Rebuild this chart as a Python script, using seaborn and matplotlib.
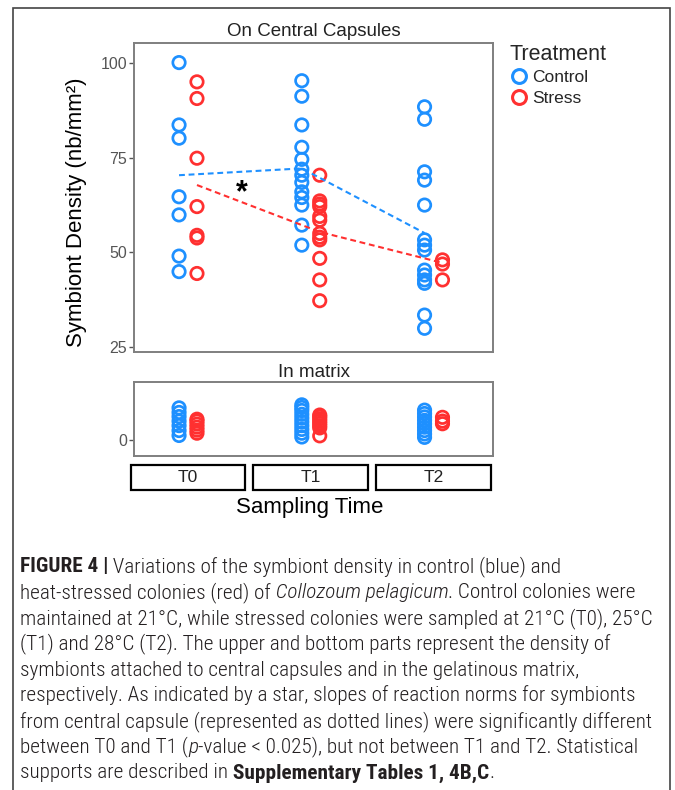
import numpy as np
import pandas as pd
import matplotlib
matplotlib.use("Agg")
import matplotlib.pyplot as plt
import seaborn as sns
from matplotlib.lines import Line2D
from matplotlib.patches import Rectangle
from matplotlib import font_manager

# ---------------- data ----------------
times = ["T0", "T1", "T2"]
treatments = ["Control", "Stress"]

# symbionts on central capsules (nb/mm2)
cap_T0_control = [100.2, 83.7, 80.2, 64.7, 59.9, 49.0, 44.9]
cap_T0_stress = [95.1, 90.7, 74.9, 62.1, 54.5, 53.8, 44.4]
cap_T1_control = [95.4, 91.3, 83.7, 77.8, 74.6, 72.0, 70.4, 68.5, 66.0, 64.5, 62.5, 57.2, 51.9]
cap_T1_stress = [70.4, 63.6, 62.8, 62.1, 59.5, 58.5, 55.0, 54.0, 53.3, 48.4, 42.7, 37.2]
cap_T2_control = [88.5, 85.2, 71.3, 69.1, 62.5, 53.3, 51.9, 50.6, 45.3, 44.0, 42.7, 41.8, 33.4, 29.9]
cap_T2_stress = [48.0, 46.9, 42.7]

# symbionts in gelatinous matrix
mat_T0_control = [1.2, 2.5, 3.8, 5.0, 6.2, 7.3, 8.5]
mat_T0_stress = [1.8, 2.6, 3.4, 4.2, 5.0, 5.5]
mat_T1_control = [0.8, 1.8, 2.8, 3.8, 4.8, 5.8, 6.8, 7.8, 8.6, 9.3]
mat_T1_stress = [1.1, 3.2, 3.8, 4.4, 5.0, 5.6, 6.2, 6.6]
mat_T2_control = [0.7, 1.6, 2.5, 3.4, 4.3, 5.2, 6.1, 7.0, 7.9]
mat_T2_stress = [4.3, 5.0, 6.0]

# reaction norms (dotted lines)
norm_control = [70.4, 72.2, 55.1]
norm_stress = [67.8, 55.4, 47.2]

y_ticks_capsules = [25, 50, 75, 100]
y_ticks_matrix = [0]

caption_lines = [
    [("FIGURE 4 |", "bold", "normal"),
     (" Variations of the symbiont density in control (blue) and", "light", "normal")],
    [("heat-stressed colonies (red) of", "light", "normal"),
     (" Collozoum pelagicum", "light", "italic"),
     (". Control colonies were", "light", "normal")],
    [("maintained at 21°C, while stressed colonies were sampled at 21°C (T0), 25°C", "light", "normal")],
    [("(T1) and 28°C (T2). The upper and bottom parts represent the density of", "light", "normal")],
    [("symbionts attached to central capsules and in the gelatinous matrix,", "light", "normal")],
    [("respectively. As indicated by a star, slopes of reaction norms for symbionts", "light", "normal")],
    [("from central capsule (represented as dotted lines) were significantly different", "light", "normal")],
    [("between T0 and T1 (", "light", "normal"), ("p", "light", "italic"),
     ("-value < 0.025), but not between T1 and T2. Statistical", "light", "normal")],
    [("supports are described in", "light", "normal"),
     (" Supplementary Tables 1, 4B,C", "bold", "normal"), (".", "light", "normal")],
]

# ---------------- build tables ----------------
def long_table(d):
    rows = []
    for (t, tr), vals in d.items():
        for v in vals:
            rows.append({"time": t, "treatment": tr, "density": v})
    return pd.DataFrame(rows)

df_cap = long_table({
    ("T0", "Control"): cap_T0_control, ("T0", "Stress"): cap_T0_stress,
    ("T1", "Control"): cap_T1_control, ("T1", "Stress"): cap_T1_stress,
    ("T2", "Control"): cap_T2_control, ("T2", "Stress"): cap_T2_stress,
})
df_mat = long_table({
    ("T0", "Control"): mat_T0_control, ("T0", "Stress"): mat_T0_stress,
    ("T1", "Control"): mat_T1_control, ("T1", "Stress"): mat_T1_stress,
    ("T2", "Control"): mat_T2_control, ("T2", "Stress"): mat_T2_stress,
})
df_norm = pd.DataFrame({
    "time": times * 2,
    "treatment": ["Control"] * 3 + ["Stress"] * 3,
    "density": norm_control + norm_stress,
})

dodge = {"Control": -0.073, "Stress": 0.073}
for df in (df_cap, df_mat, df_norm):
    df["x"] = df["time"].map(times.index) + df["treatment"].map(dodge)

# ---------------- style ----------------
W, H, DPI = 675, 790, 100
sns.set_theme(style="white")
plt.rcParams["font.family"] = ["Liberation Sans", "DejaVu Sans"]

colors = {"Control": "#1E90FF", "Stress": "#FF3030"}
grey = "#7F7F7F"
tick_col = "#555555"

fig = plt.figure(figsize=(W / DPI, H / DPI), dpi=DPI)
fig.patch.set_facecolor("white")


def rect(x0, y0, x1, y1):
    return [x0 / W, 1 - y1 / H, (x1 - x0) / W, (y1 - y0) / H]


ax_top = fig.add_axes(rect(134, 43.3, 493.3, 352.3))
ax_bot = fig.add_axes(rect(134, 382.3, 493.3, 455.7))


def hollow(ax, df):
    sns.scatterplot(data=df, x="x", y="density", hue="treatment",
                    hue_order=treatments, palette=colors, s=80,
                    legend=False, ax=ax, zorder=3)
    coll = ax.collections[-1]
    fc = coll.get_facecolors()
    coll.set_edgecolors(fc)
    coll.set_facecolors("none")
    coll.set_linewidths(1.95)


hollow(ax_top, df_cap)
hollow(ax_bot, df_mat)

sns.lineplot(data=df_norm, x="x", y="density", hue="treatment",
             hue_order=treatments, palette=colors, legend=False,
             ax=ax_top, sort=False, lw=1.5, zorder=4)
for ln in ax_top.lines:
    ln.set_linestyle((0, (2.8, 1.8)))

for ax, lims, ticks in ((ax_top, (23.55, 105.3), y_ticks_capsules),
                        (ax_bot, (-4.15, 15.26), y_ticks_matrix)):
    ax.set_xlim(-0.44, 2.487)
    ax.set_ylim(*lims)
    ax.set_yticks(ticks)
    ax.set_xticks([])
    ax.set_xlabel("")
    ax.set_ylabel("")
    ax.set_facecolor("white")
    for sp in ax.spines.values():
        sp.set_visible(True)
        sp.set_color(grey)
        sp.set_linewidth(1.4)
    ax.tick_params(axis="y", left=True, length=3.5, width=1, color=tick_col,
                   labelsize=11.5, labelcolor=tick_col, pad=1.5)

# asterisk
ax_top.text(0.4375, 63.5, "*", fontsize=22, fontweight="bold",
            ha="center", va="baseline", color="black")

# panel titles
fig.text(313.7 / W, 1 - 31 / H, "On Central Capsules", fontsize=13.5,
         ha="center", va="center", color="#222222")
fig.text(313.7 / W, 1 - 372 / H, "In matrix", fontsize=13.5,
         ha="center", va="center", color="#222222")

# strips below the bottom panel
xt = ax_bot.get_xaxis_transform()
for i, t in enumerate(times):
    ax_bot.add_patch(Rectangle((i - 0.468, -0.467), 0.936, 0.34, transform=xt,
                               fill=True, fc="white", ec="black", lw=1.6,
                               clip_on=False))
    ax_bot.text(i, -0.297, t, transform=xt, ha="center", va="center",
                fontsize=12.5, color="#222222")

# axis titles
fig.text(310 / W, 1 - 507 / H, "Sampling Time", fontsize=16,
         ha="center", va="center", color="black")
fig.text(77 / W, 1 - 212 / H, "Symbiont Density (nb/mm²)", fontsize=16,
         rotation=90, ha="center", va="center", color="black")

# legend
handles = [Line2D([], [], marker="o", ls="", mfc="none", mec=colors[t],
                  mew=2.2, ms=10) for t in treatments]
fig.legend(handles, treatments, title="Treatment", loc="upper left",
           bbox_to_anchor=(509 / W, 1 - 44 / H), frameon=False, fontsize=12.5,
           title_fontsize=15.5, alignment="left", handletextpad=0.15,
           borderpad=0, borderaxespad=0, labelspacing=0.3, handlelength=1.2)

# outer frame
fig.add_artist(Rectangle((13 / W, -0.05), 657 / W, 1.05 - 8 / H,
                         transform=fig.transFigure, fill=False,
                         ec="#444444", lw=1.2))

# caption
def pick_font():
    for f in ["Liberation Sans Narrow", "Roboto Condensed", "Liberation Sans"]:
        try:
            font_manager.findfont(f, fallback_to_default=False)
            return f
        except Exception:
            continue
    return "DejaVu Sans"


cap_font = pick_font()
renderer = fig.canvas.get_renderer()


def run_width(s, size, weight, style):
    t = fig.text(0, 0, s, fontsize=size, fontweight=weight, fontstyle=style,
                 family=[cap_font, "DejaVu Sans"])
    w = t.get_window_extent(renderer).width
    t.remove()
    return w


ref = caption_lines[6][0][0]
size = 10 * 633 / run_width(ref, 10, "light", "normal")

for i, line in enumerate(caption_lines):
    x = 20.0
    base = 572.5 + 25.75 * i
    for s, weight, style in line:
        fig.text(x / W, 1 - base / H, s, fontsize=size, fontweight=weight,
                 fontstyle=style, family=[cap_font, "DejaVu Sans"],
                 ha="left", va="baseline", color="#231F20")
        x += run_width(s, size, weight, style)

fig.savefig("out.png", dpi=DPI, facecolor="white")
